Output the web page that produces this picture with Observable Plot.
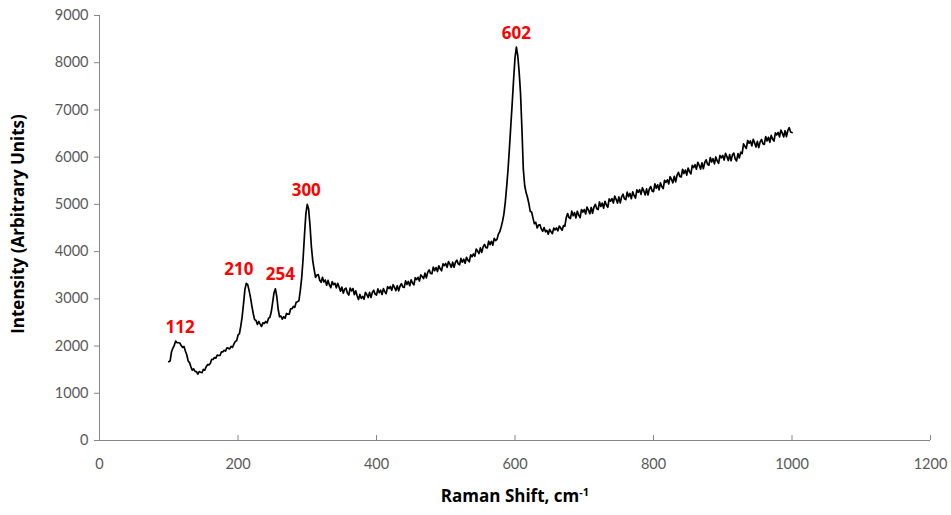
<!DOCTYPE html>
<html><head><meta charset="utf-8">
<script src="https://cdn.jsdelivr.net/npm/d3@7"></script>
<script src="https://cdn.jsdelivr.net/npm/@observablehq/plot@0.6"></script>
<style>body{margin:0;background:#fff;}</style>
</head><body><div id="chart"></div>
<script>
const ramanShift = [
100,102,104,106,108,110,112,114,116,118,
120,122,124,126,128,130,132,134,136,138,
140,142,144,146,148,150,152,154,156,158,
160,162,164,166,168,170,172,174,176,178,
180,182,184,186,188,190,192,194,196,198,
200,202,204,206,208,210,212,214,216,218,
220,222,224,226,228,230,232,234,236,238,
240,242,244,246,248,250,252,254,256,258,
260,262,264,266,268,270,272,274,276,278,
280,282,284,286,288,290,292,294,296,298,
300,302,304,306,308,310,312,314,316,318,
320,322,324,326,328,330,332,334,336,338,
340,342,344,346,348,350,352,354,356,358,
360,362,364,366,368,370,372,374,376,378,
380,382,384,386,388,390,392,394,396,398,
400,402,404,406,408,410,412,414,416,418,
420,422,424,426,428,430,432,434,436,438,
440,442,444,446,448,450,452,454,456,458,
460,462,464,466,468,470,472,474,476,478,
480,482,484,486,488,490,492,494,496,498,
500,502,504,506,508,510,512,514,516,518,
520,522,524,526,528,530,532,534,536,538,
540,542,544,546,548,550,552,554,556,558,
560,562,564,566,568,570,572,574,576,578,
580,582,584,586,588,590,592,594,596,598,
600,602,604,606,608,610,612,614,616,618,
620,622,624,626,628,630,632,634,636,638,
640,642,644,646,648,650,652,654,656,658,
660,662,664,666,668,670,672,674,676,678,
680,682,684,686,688,690,692,694,696,698,
700,702,704,706,708,710,712,714,716,718,
720,722,724,726,728,730,732,734,736,738,
740,742,744,746,748,750,752,754,756,758,
760,762,764,766,768,770,772,774,776,778,
780,782,784,786,788,790,792,794,796,798,
800,802,804,806,808,810,812,814,816,818,
820,822,824,826,828,830,832,834,836,838,
840,842,844,846,848,850,852,854,856,858,
860,862,864,866,868,870,872,874,876,878,
880,882,884,886,888,890,892,894,896,898,
900,902,904,906,908,910,912,914,916,918,
920,922,924,926,928,930,932,934,936,938,
940,942,944,946,948,950,952,954,956,958,
960,962,964,966,968,970,972,974,976,978,
980,982,984,986,988,990,992,994,996,998,
1000];
const intensity = [
1670,1685,1880,1955,2015,2105,2070,2070,2065,2010,
1970,1990,1895,1815,1685,1650,1560,1490,1515,1465,
1460,1405,1460,1445,1435,1505,1490,1560,1605,1600,
1630,1720,1715,1755,1745,1810,1800,1800,1875,1875,
1910,1895,1960,1955,1940,1995,1970,2040,2095,2110,
2230,2260,2420,2620,2900,3200,3330,3300,3180,3030,
2850,2690,2560,2540,2460,2520,2465,2415,2490,2480,
2520,2490,2585,2610,2720,2920,3130,3210,3050,2780,
2620,2635,2570,2620,2590,2690,2675,2675,2790,2790,
2840,2820,2925,2940,2960,3180,3450,3850,4350,4800,
5000,4900,4550,4100,3800,3620,3455,3505,3512,3395,
3350,3455,3358,3398,3288,3390,3295,3235,3362,3302,
3330,3232,3330,3252,3163,3248,3120,3205,3227,3125,
3080,3225,3168,3218,3088,3170,3065,2985,3092,3012,
3050,2992,3135,3092,3028,3138,3030,3135,3182,3100,
3080,3210,3128,3183,3093,3215,3150,3110,3257,3217,
3262,3180,3299,3242,3174,3278,3169,3273,3322,3250,
3240,3380,3306,3368,3278,3400,3335,3295,3447,3407,
3455,3377,3505,3472,3428,3543,3445,3560,3612,3540,
3530,3670,3598,3663,3578,3700,3635,3595,3742,3702,
3750,3668,3790,3734,3668,3775,3669,3775,3820,3740,
3722,3855,3778,3838,3753,3880,3820,3785,3932,3892,
3950,3902,4055,4012,3958,4078,3985,4100,4152,4085,
4080,4220,4148,4218,4138,4280,4235,4260,4370,4420,
4520,4640,4800,5050,5380,5750,6200,6680,7150,7650,
8100,8330,8150,7800,7350,6600,5750,5400,5250,5150,
5020,4850,4840,4710,4590,4620,4500,4560,4570,4480,
4430,4510,4420,4450,4370,4470,4420,4380,4500,4460,
4500,4440,4540,4500,4450,4550,4540,4720,4805,4720,
4700,4857,4759,4826,4713,4855,4772,4719,4891,4838,
4890,4797,4944,4881,4803,4935,4812,4944,5001,4908,
4890,5051,4957,5029,4920,5066,4988,4939,5115,5067,
5123,5029,5174,5108,5028,5157,5032,5161,5216,5120,
5100,5259,5163,5232,5121,5265,5184,5133,5307,5256,
5310,5212,5353,5285,5202,5328,5200,5327,5378,5286,
5270,5433,5341,5415,5308,5456,5380,5333,5511,5465,
5520,5433,5586,5529,5457,5595,5478,5616,5679,5592,
5580,5744,5653,5727,5621,5770,5694,5648,5827,5781,
5840,5746,5892,5828,5749,5880,5756,5887,5943,5849,
5830,5991,5897,5968,5859,6004,5920,5867,6039,5985,
6037,5939,6080,6012,5929,6055,5924,6048,6085,5960,
5920,6075,5985,6105,6075,6280,6230,6185,6353,6295,
6342,6239,6376,6303,6215,6335,6202,6324,6375,6285,
6270,6435,6345,6420,6315,6460,6385,6340,6515,6470,
6525,6430,6575,6510,6430,6560,6435,6565,6625,6535,
6520];
const peakShift = [112, 210, 254, 300, 602];
const peakIntensity = [2100, 3330, 3210, 5000, 8330];
const peakLabels = ["112", "210", "254", "300", "602"];
const xTicks = [0, 200, 400, 600, 800, 1000, 1200];
const yTicks = [0, 1000, 2000, 3000, 4000, 5000, 6000, 7000, 8000, 9000];
const xTitle = "Raman Shift, cm";
const xTitleSup = "-1";
const yTitle = "Intensity (Arbitrary Units)";

const spectrum = ramanShift.map((x, i) => ({x, y: intensity[i]}));
const peaks = peakShift.map((x, i) => ({x, y: peakIntensity[i], label: peakLabels[i]}));
const labelDx = [3, -6, 5, -1, 0];
const axisColor = "#868686";
const titleFont = "'Open Sans', Lato, sans-serif";

const chart = Plot.plot({
  width: 951, height: 515,
  marginLeft: 99, marginRight: 21, marginTop: 15, marginBottom: 75,
  style: {fontFamily: "Lato, 'Open Sans', sans-serif", fontSize: "14.5px", color: "#595959", background: "#fff"},
  x: {domain: [0, 1200]},
  y: {domain: [0, 9000]},
  marks: [
    Plot.ruleY([0], {stroke: axisColor}),
    Plot.ruleX([0], {stroke: axisColor}),
    Plot.axisY({ticks: yTicks, tickSize: 5, tickPadding: 6, stroke: axisColor, label: null, tickFormat: d => String(d)}),
    Plot.axisX({ticks: xTicks, tickSize: -5, tickPadding: 23, stroke: axisColor, label: null, tickFormat: d => String(d)}),
    Plot.line(spectrum, {x: "x", y: "y", stroke: "#000", strokeWidth: 1.7}),
    ...peaks.map((p, i) => Plot.text([p], {x: "x", y: "y", text: "label", dy: -14, dx: labelDx[i], fill: "#ff0000", fontWeight: "bold", fontSize: 17, fontFamily: titleFont})),
    Plot.text([yTitle], {frameAnchor: "left", textAnchor: "middle", dx: -81, dy: -4, rotate: -90, fontWeight: "bold", fontSize: 17, fill: "#000", fontFamily: titleFont}),
    Plot.text([xTitle], {frameAnchor: "bottom", textAnchor: "middle", dy: 61, fontWeight: "bold", fontSize: 17, fill: "#000", fontFamily: titleFont})
  ]
});
document.getElementById("chart").appendChild(chart);

// superscript on the x title
d3.select(chart).selectAll("text").filter(function() { return this.textContent === xTitle; })
  .each(function() {
    const t = d3.select(this);
    t.text(null);
    t.append("tspan").text(xTitle);
    t.append("tspan").attr("font-size", "11px").attr("dy", "-6").text(xTitleSup);
  });
</script>
</body></html>
